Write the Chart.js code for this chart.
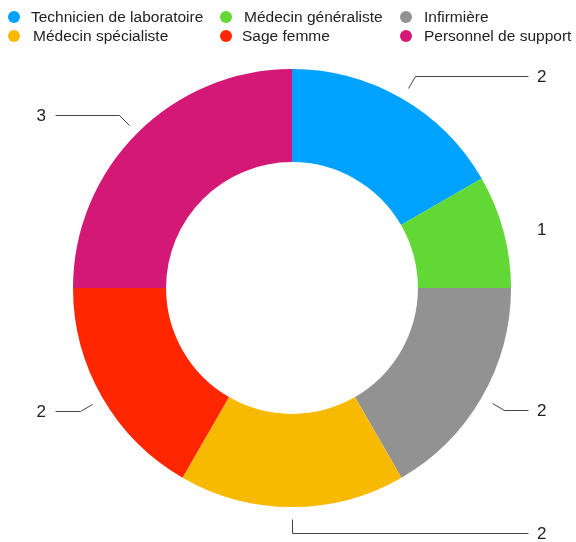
<!DOCTYPE html>
<html>
<head>
<meta charset="utf-8">
<script src="https://cdn.jsdelivr.net/npm/chart.js@4/dist/chart.umd.min.js"></script>
<style>
  html, body { margin:0; padding:0; background:#fff; }
  .wrap { position:relative; width:576px; height:542px; }
  canvas { position:absolute; left:0; top:0; }
  .legend { position:absolute; left:0; top:0; width:576px; font-family:"Liberation Sans", Arial, sans-serif; font-size:15.5px; color:#222; }
  .lg-item { position:absolute; white-space:nowrap; line-height:16px; }
  .lg-dot { position:absolute; width:12px; height:12px; border-radius:50%; top:2px; }
</style>
</head>
<body>
<div class="wrap">
  <canvas id="chart-doughnut" width="576" height="542"></canvas>
  <div class="legend" id="legend"></div>
</div>
<script>
const categories = ['Technicien de laboratoire','Médecin généraliste','Infirmière','Médecin spécialiste','Sage femme','Personnel de support'];
const counts = [2,1,2,2,2,3];
const colors = ['#00A2FF','#61D836','#929292','#F8BA00','#FF2600','#D41876'];

// legend grid (row-major, 3 columns)
(function buildLegend(){
  const legend = document.getElementById('legend');
  const colX = [8, 220, 400];
  const textOff = [[23,24,24],[25,22,24]];
  const rowY = [9, 28];
  categories.forEach((name, i) => {
    const row = Math.floor(i/3), col = i%3;
    const item = document.createElement('div');
    item.className = 'lg-item';
    item.style.left = colX[col] + 'px';
    item.style.top = rowY[row] + 'px';
    const dot = document.createElement('span');
    dot.className = 'lg-dot';
    dot.style.background = colors[i];
    dot.style.left = '0px';
    const txt = document.createElement('span');
    txt.textContent = name;
    txt.style.marginLeft = textOff[row][col] + 'px';
    item.appendChild(dot);
    item.appendChild(txt);
    legend.appendChild(item);
  });
})();

const leaderLabels = {
  id:'leaderLabels',
  afterDatasetsDraw(chart){
    const ctx = chart.ctx;
    const meta = chart.getDatasetMeta(0);
    const values = chart.data.datasets[0].data;
    ctx.save();
    ctx.font = '17px "Liberation Sans", Arial, sans-serif';
    ctx.fillStyle = '#222';
    ctx.strokeStyle = '#444';
    ctx.lineWidth = 1;
    ctx.textBaseline = 'middle';
    meta.data.forEach((arc, i) => {
      const p = arc.getProps(['x','y','startAngle','endAngle','outerRadius'], true);
      const mid = (p.startAngle + p.endAngle) / 2;
      const cx = Math.cos(mid), cy = Math.sin(mid);
      const r1 = p.outerRadius + 12, r2 = p.outerRadius + 26;
      const sx = p.x + cx*r1, sy = p.y + cy*r1;
      const ex = p.x + cx*r2, ey = p.y + cy*r2;
      const right = cx >= -0.01;
      const endX = right ? 528 : 55;
      const hasLine = right ? ex < endX - 5 : ex > endX + 5;
      if(hasLine){
        ctx.beginPath();
        ctx.moveTo(Math.round(sx)+0.5, Math.round(sy)+0.5);
        ctx.lineTo(Math.round(ex)+0.5, Math.round(ey)+0.5);
        ctx.lineTo(endX+0.5, Math.round(ey)+0.5);
        ctx.stroke();
      }
      const ly = hasLine ? Math.round(ey)+1 : ey + 6;
      ctx.textAlign = right ? 'left' : 'right';
      ctx.fillText(String(values[i]), right ? endX + 9 : endX - 9, ly);
    });
    ctx.restore();
  }
};

new Chart(document.getElementById('chart-doughnut'), {
  type:'doughnut',
  data:{
    labels:categories,
    datasets:[{
      data:counts,
      backgroundColor:colors,
      borderWidth:0
    }]
  },
  options:{
    responsive:false, animation:false,
    cutout:'57.5%',
    layout:{ padding:{ left:73, right:65, top:69, bottom:35 } },
    plugins:{ legend:{ display:false }, tooltip:{ enabled:false } }
  },
  plugins:[leaderLabels]
});
</script>
</body>
</html>
